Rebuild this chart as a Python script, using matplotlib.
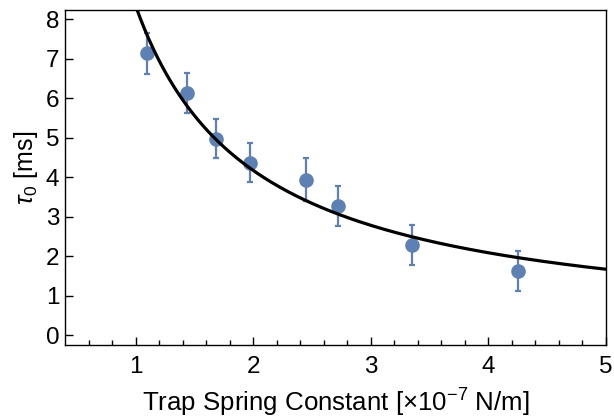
import numpy as np
import matplotlib.pyplot as plt

plt.rcParams["font.family"] = "Liberation Sans"
plt.rcParams["mathtext.fontset"] = "custom"
plt.rcParams["mathtext.rm"] = "Liberation Sans"
plt.rcParams["mathtext.it"] = "Liberation Sans:italic"

# measured trap stiffness (x1e-7 N/m) and decay time (ms)
stiffness = [1.094, 1.434, 1.68, 1.97, 2.45, 2.72, 3.35, 4.25]
tau0 = [7.14, 6.14, 4.98, 4.37, 3.94, 3.27, 2.28, 1.62]
tau0_err = [0.52, 0.50, 0.50, 0.50, 0.55, 0.51, 0.50, 0.50]

# fit tau0 = k / stiffness
fit_k = 8.35

blue = "#5E81B5"

fig = plt.figure(figsize=(6.14, 4.19), dpi=100)
ax = fig.add_axes([65 / 614, 74 / 419, 541 / 614, 335 / 419])

xs = np.linspace(0.4, 5.0, 400)
ax.plot(xs, fit_k / xs, color="black", linewidth=2.3, zorder=3)

ax.errorbar(stiffness, tau0, yerr=tau0_err, fmt="o", color=blue, ms=9.5,
            elinewidth=1.6, capsize=2.2, capthick=1.6, zorder=2)

ax.set_xlim(0.4, 5.0)
ax.set_ylim(-0.25, 8.24)
ax.set_xticks([1, 2, 3, 4, 5])
ax.set_xticks(np.arange(0.6, 5.0, 0.2), minor=True)
ax.set_yticks(range(0, 9))
ax.tick_params(axis="both", which="both", direction="in", labelsize=17.5,
               top=False, right=False, width=1)
ax.tick_params(which="major", length=6)
ax.tick_params(which="minor", length=3.5)
ax.tick_params(axis="x", pad=8)
ax.tick_params(axis="y", pad=4)
for s in ax.spines.values():
    s.set_linewidth(1)

ax.set_xlabel(r"Trap Spring Constant [$\times$10$^{-7}$ N/m]", fontsize=18.6, labelpad=6)
ax.set_ylabel(r"$\tau_0$ [ms]", fontsize=18)
ax.yaxis.set_label_coords(-0.046, 0.528)

fig.savefig("out.png", dpi=100)
